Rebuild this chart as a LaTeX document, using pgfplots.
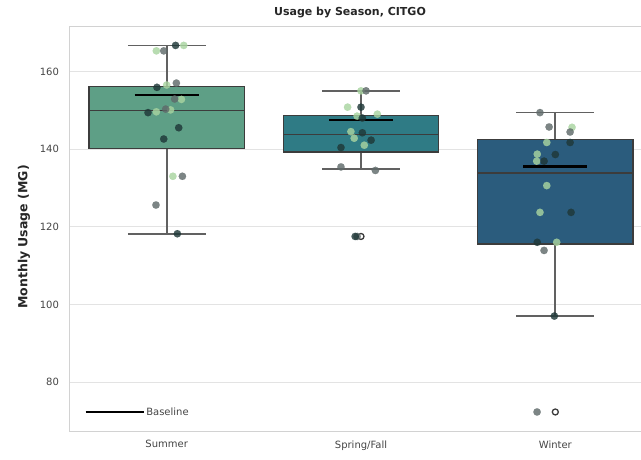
\documentclass[border=0pt]{standalone}
\usepackage{fontspec}
\setmainfont{DejaVu Sans}
\usepackage{pgfplots}
\pgfplotsset{compat=1.18}
\definecolor{csummer}{HTML}{5E9F86}
\definecolor{cspring}{HTML}{2F7B85}
\definecolor{cwinter}{HTML}{2B5C7D}
\definecolor{plight}{HTML}{A8D4A0}
\definecolor{pgray}{HTML}{5F6A6A}
\definecolor{pdark}{HTML}{1F3838}
\definecolor{gridc}{HTML}{E3E3E3}
\definecolor{spinec}{HTML}{D2D2D2}
\definecolor{txt}{HTML}{444444}
\definecolor{edgec}{HTML}{3C3C3C}
\pgfplotsset{
  wsk/.style={forget plot, draw=black!62, line width=1.7pt},
  bx/.style={forget plot, draw=edgec, line width=1.5pt, fill=#1},
  med/.style={forget plot, draw=edgec, line width=1.5pt},
  pts/.style={forget plot, only marks, mark=*, mark size=3.7pt, color=#1,
     mark options={draw=#1, fill=#1, line width=0.1pt, opacity=0.82}},
}
\begin{document}
\begin{tikzpicture}
\begin{axis}[
 at={(69.5pt,28pt)}, anchor=south west,
 scale only axis, width=583pt, height=405pt,
 xmin=-0.5, xmax=2.5, ymin=67.4, ymax=171.7,
 xtick={0,1,2}, xticklabels={Summer,Spring/Fall,Winter},
 ytick={80,100,120,140,160},
 ymajorgrids, grid style={gridc, line width=0.9pt},
 axis line style={spinec, line width=0.9pt},
 major tick length=0pt,
 tick label style={font=\fontsize{10}{12}\selectfont, text=txt},
 /pgf/number format/assume math mode=true,
 xticklabel style={yshift=-6pt},
 yticklabel style={xshift=-7pt},
 legend style={at={(0.02,0.047)}, anchor=west, draw=none, fill=none,
   font=\fontsize{10}{12}\selectfont, text=txt, nodes={inner sep=1.5pt}},
]
% Summer
\addplot[wsk] coordinates {(0,156.1) (0,166.7)};
\addplot[wsk] coordinates {(-0.2,166.7) (0.2,166.7)};
\addplot[wsk] coordinates {(0,140.2) (0,118.2)};
\addplot[wsk] coordinates {(-0.2,118.2) (0.2,118.2)};
\addplot[bx=csummer] coordinates {(-0.4,140.2) (0.4,140.2) (0.4,156.1) (-0.4,156.1)} -- cycle;
\addplot[med] coordinates {(-0.4,150.0) (0.4,150.0)};
% Spring/Fall
\addplot[wsk] coordinates {(1,148.6) (1,155.0)};
\addplot[wsk] coordinates {(0.8,155.0) (1.2,155.0)};
\addplot[wsk] coordinates {(1,139.3) (1,134.8)};
\addplot[wsk] coordinates {(0.8,134.8) (1.2,134.8)};
\addplot[bx=cspring] coordinates {(0.6,139.3) (1.4,139.3) (1.4,148.6) (0.6,148.6)} -- cycle;
\addplot[med] coordinates {(0.6,143.7) (1.4,143.7)};
% Winter
\addplot[wsk] coordinates {(2,142.5) (2,149.4)};
\addplot[wsk] coordinates {(1.8,149.4) (2.2,149.4)};
\addplot[wsk] coordinates {(2,115.6) (2,97.0)};
\addplot[wsk] coordinates {(1.8,97.0) (2.2,97.0)};
\addplot[bx=cwinter] coordinates {(1.6,115.6) (2.4,115.6) (2.4,142.5) (1.6,142.5)} -- cycle;
\addplot[med] coordinates {(1.6,133.9) (2.4,133.9)};
% fliers
\addplot[forget plot, only marks, mark=o, mark size=3pt, mark options={draw=edgec, line width=1.3pt, fill=white}] coordinates {(1,117.5) (2,72.3)};
% baselines
\addplot[black, line width=2.8pt, legend image code/.code={\draw[black, line width=2.4pt] (0pt,0pt) -- (58pt,0pt);}] coordinates {(-0.165,153.95) (0.165,153.95)};
\addlegendentry{Baseline}
\addplot[forget plot, black, line width=2.8pt] coordinates {(0.835,147.5) (1.165,147.5)};
\addplot[forget plot, black, line width=2.8pt] coordinates {(1.835,135.5) (2.165,135.5)};
% points
\addplot[pts=plight] coordinates {
(0.088,166.7) (-0.053,165.3) (0,156.5) (0.076,152.8) (-0.053,149.6) (0.02,150.1) (0.032,133.0)
(1,155.0) (0.931,150.8) (0.98,148.5) (1.084,149.0) (0.948,144.5) (0.965,142.8) (1.017,141.0)
(2.086,145.6) (1.956,141.7) (1.907,138.7) (1.904,136.9) (1.956,130.6) (1.921,123.7) (2.007,116.0)};
\addplot[pts=pgray] coordinates {
(-0.015,165.3) (0.05,157.0) (0.041,152.9) (-0.005,150.3) (0.081,133.0) (-0.055,125.6)
(1.026,155.0) (0.897,135.4) (1.074,134.5) (0.98,117.5)
(1.921,149.4) (1.968,145.7) (2.076,144.4) (1.942,113.9) (1.906,72.3)};
\addplot[pts=pdark] coordinates {
(0.046,166.7) (-0.05,155.9) (-0.096,149.4) (0.062,145.5) (-0.015,142.6) (0.055,118.2)
(1,150.8) (1.007,148.0) (1.007,144.2) (1.052,142.3) (0.897,140.4) (0.97,117.5)
(2.076,141.7) (2,138.6) (1.942,136.9) (2.081,123.7) (1.907,116.0) (1.995,97.0)};
\end{axis}
\node[font=\bfseries\fontsize{11}{13}\selectfont, text=black!85] at (350pt,446pt) {Usage by Season, CITGO};
\node[rotate=90, font=\bfseries\fontsize{12.5}{14}\selectfont, text=black!85] at (24pt,222pt) {Monthly Usage (MG)};
\pgfresetboundingbox
\useasboundingbox (0,0) rectangle (641pt,459pt);
\end{tikzpicture}
\end{document}
